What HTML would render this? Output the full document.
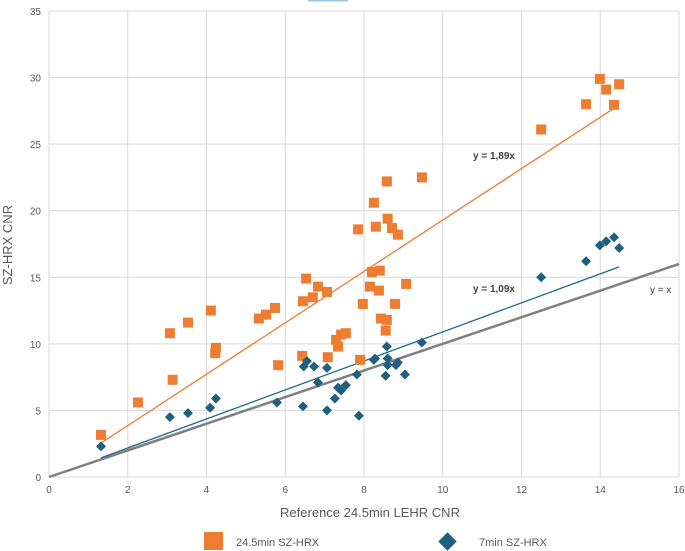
<!DOCTYPE html>
<html><head><meta charset="utf-8"><style>
body{margin:0;background:#fff;}
svg{display:block;font-family:"Liberation Sans",sans-serif;}
</style></head><body>
<svg id="chart" width="685" height="551">
<rect x="308" y="0" width="40" height="1.5" fill="#9dc3e6"/>
<g id="grid"></g>
<g id="ticks"></g>
<g id="marks"></g>
<text x="12" y="245" transform="rotate(-90 12 245)" text-anchor="middle" font-size="13" fill="#595959">SZ-HRX CNR</text>
<text x="370" y="517" text-anchor="middle" font-size="13" fill="#595959">Reference 24.5min LEHR CNR</text>
<rect x="204" y="532" width="19" height="18" fill="#ed7d31"/>
<text x="236" y="546" font-size="11" fill="#595959">24.5min SZ-HRX</text>
<rect x="441" y="535" width="13" height="13" fill="#1f5f7f" transform="rotate(45 447.5 541.5)"/>
<text x="479" y="546" font-size="11" fill="#595959">7min SZ-HRX</text>
</svg>
<script>
const xTicks=[0,2,4,6,8,10,12,14,16];
const yTicks=[0,5,10,15,20,25,30,35];
const orangeX=[1.32,2.26,3.07,3.14,3.53,4.11,4.22,4.24,5.33,5.51,5.74,5.82,6.43,6.45,6.53,6.7,6.83,7.06,7.08,7.29,7.34,7.42,7.54,7.85,7.9,7.97,8.15,8.2,8.25,8.3,8.38,8.4,8.43,8.55,8.58,8.58,8.6,8.71,8.79,8.86,9.07,9.47,12.5,13.64,13.99,14.15,14.35,14.48];
const orangeY=[3.16,5.6,10.8,7.3,11.6,12.5,9.3,9.7,11.9,12.2,12.7,8.4,9.1,13.2,14.9,13.5,14.3,13.9,9.0,10.3,9.8,10.7,10.8,18.6,8.8,13.0,14.3,15.4,20.6,18.8,14.0,15.5,11.9,11.0,11.8,22.2,19.4,18.7,13.0,18.2,14.5,22.5,26.1,28.0,29.9,29.1,27.95,29.5];
const blueX=[1.32,3.07,3.53,4.09,4.24,5.79,6.45,6.47,6.55,6.73,6.83,7.06,7.06,7.26,7.34,7.42,7.54,7.82,7.87,8.25,8.28,8.55,8.58,8.6,8.6,8.81,8.86,9.04,9.47,12.5,13.64,13.99,14.15,14.35,14.48];
const blueY=[2.3,4.5,4.8,5.2,5.9,5.6,5.3,8.3,8.7,8.3,7.1,8.2,5.0,5.9,6.7,6.5,6.9,7.7,4.6,8.8,8.9,7.6,9.8,8.9,8.4,8.4,8.6,7.7,10.1,15.0,16.2,17.4,17.7,18.0,17.2];
const slopes=[1.93,1.09,1];
const NS="http://www.w3.org/2000/svg";
const X0=49,X1=679,Y0=477,Y1=11;
const sx=v=>X0+(v-0)/16*(X1-X0);
const sy=v=>Y0-(v-0)/35*(Y0-Y1);
function mk(tag,attrs,parent){const e=document.createElementNS(NS,tag);for(const k in attrs)e.setAttribute(k,attrs[k]);document.getElementById(parent).appendChild(e);return e;}
xTicks.forEach(t=>{
 const l=mk('line',{x1:sx(t),x2:sx(t),y1:Y1,y2:Y0,stroke:'#d9d9d9','stroke-width':1},'grid');
 
 
 const tx=mk('text',{x:sx(t),y:Y0+16,'text-anchor':'middle','font-size':10,fill:'#595959'},'ticks');tx.textContent=t;
 
 
});
yTicks.forEach(t=>{
 const l=mk('line',{x1:X0,x2:X1,y1:sy(t),y2:sy(t),stroke:'#d9d9d9','stroke-width':1},'grid');
 
 
 const tx=mk('text',{x:X0-8,y:sy(t)+4,'text-anchor':'end','font-size':10,fill:'#595959'},'ticks');tx.textContent=t;
 
 
});
let l=mk('line',{x1:sx(0),y1:sy(0),x2:sx(16),y2:sy(16*slopes[2]),stroke:'#7f7f7f','stroke-width':2.5},'marks');


const xmin=Math.min(...orangeX),xmax=Math.max(...orangeX);
l=mk('line',{x1:sx(xmin),y1:sy(xmin*slopes[0]),x2:sx(xmax),y2:sy(xmax*slopes[0]),stroke:'#ed7d31','stroke-width':1.3},'marks');


l=mk('line',{x1:sx(xmin),y1:sy(xmin*slopes[1]),x2:sx(xmax),y2:sy(xmax*slopes[1]),stroke:'#1f6a8a','stroke-width':1.3},'marks');


orangeX.forEach((v,i)=>{
 const r=mk('rect',{x:sx(v)-5,y:sy(orangeY[i])-5,width:10,height:10,fill:'#ed7d31'},'marks');
 
 
});
blueX.forEach((v,i)=>{
 const cx=sx(v),cy=sy(blueY[i]);
 const p=mk('polygon',{points:`${cx},${cy-5} ${cx+5},${cy} ${cx},${cy+5} ${cx-5},${cy}`,fill:'#1f5f7f'},'marks');
 
 
});
[['y = 1,89x',473,159,'bold'],['y = 1,09x',473,292,'bold'],['y = x',650,293,'normal']].forEach(a=>{
 const t=mk('text',{x:a[1],y:a[2],'font-size':10,'font-weight':a[3],fill:'#404040'},'marks');t.textContent=a[0];
 
 
});
</script>
</body></html>
